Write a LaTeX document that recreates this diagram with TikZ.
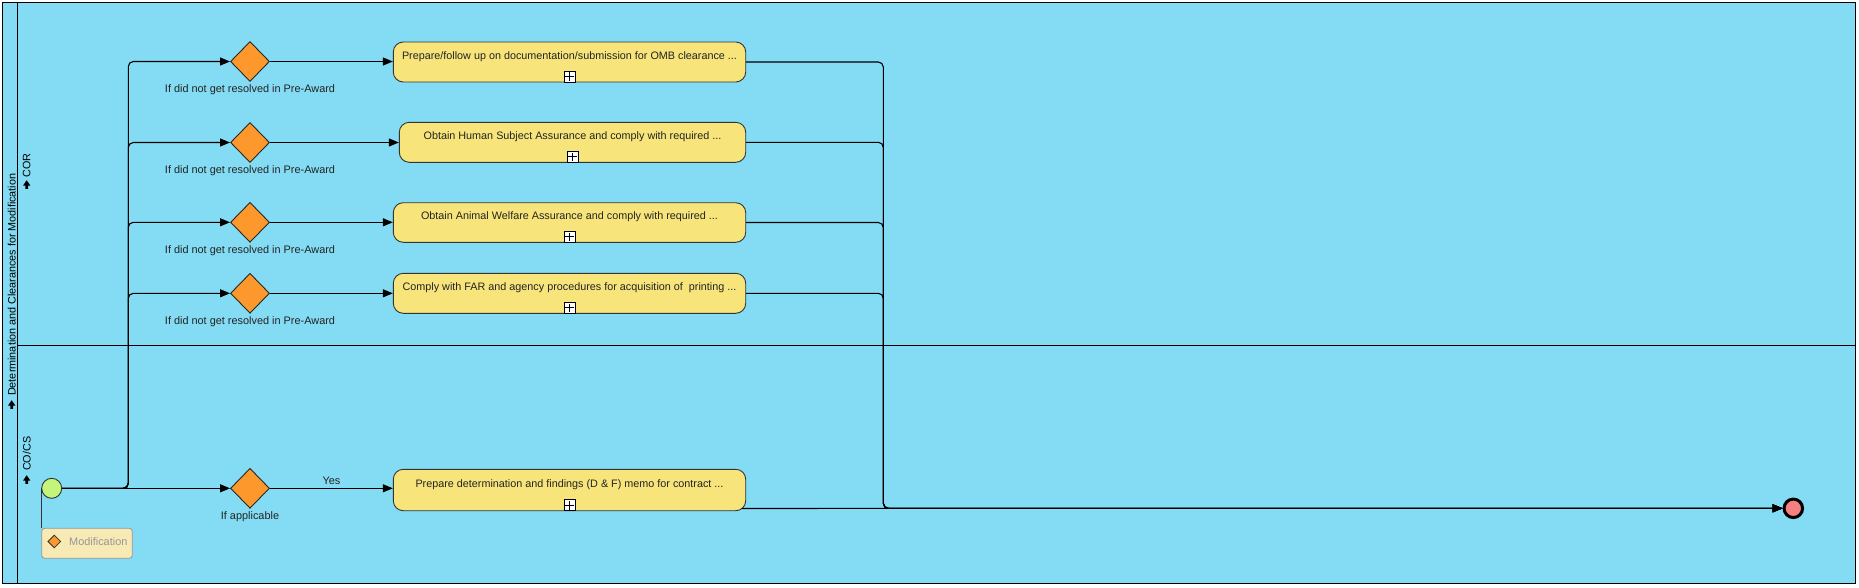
\documentclass[tikz,border=0pt]{standalone}
\usepackage{fontspec}
\setmainfont{Liberation Sans}
\usetikzlibrary{shapes.geometric,arrows.meta,calc}

\definecolor{laneblue}{RGB}{132,220,244}
\definecolor{taskyel}{RGB}{247,229,123}
\definecolor{gworange}{RGB}{252,152,44}
\definecolor{evgreen}{RGB}{196,244,122}
\definecolor{evred}{RGB}{245,128,128}
\definecolor{annfill}{RGB}{247,234,180}
\definecolor{anngray}{RGB}{150,150,150}
\definecolor{txt}{RGB}{35,35,35}

\begin{document}
\begin{tikzpicture}[x=1pt,y=-1pt,
  every node/.style={font=\fontsize{10.8}{12}\selectfont, text=txt},
  task/.style={draw=black!80, fill=taskyel, rounded corners=10pt, minimum height=40pt, inner sep=0pt, line width=0.9pt},
  gw/.style={diamond, draw=black!85, fill=gworange, minimum width=39pt, minimum height=40pt, inner sep=0pt, line width=0.9pt},
  plusbox/.style={draw=black, fill=white, minimum size=11pt, inner sep=0pt, line width=0.8pt, anchor=south,
    path picture={\draw[line width=0.8pt] ($(path picture bounding box.center)+(0,4.3)$) -- ($(path picture bounding box.center)+(0,-4.3)$)
      ($(path picture bounding box.center)+(4.3,0)$) -- ($(path picture bounding box.center)+(-4.3,0)$);}},
  flow/.style={draw=black, line width=1.1pt, rounded corners=5pt, -{Triangle[length=10pt,width=8pt]}},
  gwlabel/.style={font=\fontsize{10.9}{12}\selectfont},
  lanelabel/.style={rotate=90, text=black, anchor=west, inner sep=0pt},
  lanearrow/.pic={\fill[black] (-3.6,1) -- (0,-4.3) -- (3.6,1) -- (1.4,1) -- (1.4,4.3) -- (-1.4,4.3) -- (-1.4,1) -- cycle;},
]
\useasboundingbox (0,0) rectangle (1859,587);
\fill[white] (0,0) rectangle (1859,587);
\fill[laneblue] (2.3,2) rectangle (1855.7,583.3);
\draw[line width=1pt] (2.3,2) rectangle (1855.7,583.3);
\draw[line width=1pt] (17.3,2) -- (17.3,583.3);
\draw[line width=1pt] (17.3,345.3) -- (1855.7,345.3);

% pool and lane labels
\node[lanelabel] (pooltitle) at (11.7,396) {Determination and Clearances for Modification};
\node[lanelabel] (cor) at (26.7,177.5) {COR};
\node[lanelabel] (cocs) at (26.7,471) {CO/CS};
\pic at (11.7,404.5) {lanearrow};
\pic at (26.7,184.5) {lanearrow};
\pic at (26.7,479.5) {lanearrow};

% annotation
\node[draw=anngray, fill=annfill, rounded corners=3pt, minimum width=90.6pt, minimum height=30pt, inner sep=0pt, line width=0.8pt] (mod) at (87,543.3) {};
\node[diamond, draw=black!80, fill=gworange, minimum width=13pt, minimum height=13pt, inner sep=0pt, line width=0.8pt] (modicon) at (54.3,541.5) {};
\node[text=anngray, font=\fontsize{10.9}{12}\selectfont] (modtxt) at (98.3,541.5) {Modification};

% events
\node[circle, draw=black!80, fill=evgreen, minimum size=20pt, inner sep=0pt, line width=0.9pt] (start) at (51.7,488.3) {};
\node[circle, draw=black, fill=evred, minimum size=18.5pt, inner sep=0pt, line width=3pt] (end) at (1793.3,508.3) {};
\draw[line width=0.9pt, black!80] (start.west) -- (start.west |- mod.north);

% gateways
\node[gw] (d1) at (250,61.5) {};
\node[gw] (d2) at (250,142.5) {};
\node[gw] (d3) at (250,222.3) {};
\node[gw] (d4) at (250,293.3) {};
\node[gw] (d5) at (250,488.3) {};
\node[gwlabel] (l1) at (250,89.8) {If did not get resolved in Pre-Award};
\node[gwlabel] (l2) at (250,170.8) {If did not get resolved in Pre-Award};
\node[gwlabel] (l3) at (250,250.6) {If did not get resolved in Pre-Award};
\node[gwlabel] (l4) at (250,321.6) {If did not get resolved in Pre-Award};
\node[gwlabel] (l5) at (250,516.5) {If applicable};

% tasks
\node[task, minimum width=352.4pt] (t1) at (569.5,62) {};
\node[task, minimum width=346.4pt] (t2) at (572.5,142.3) {};
\node[task, minimum width=352.4pt, minimum height=39.6pt] (t3) at (569.5,222.5) {};
\node[task, minimum width=352.4pt] (t4) at (569.5,293.3) {};
\node[task, minimum width=352.4pt, minimum height=41.4pt] (t5) at (569.5,490) {};
\node (t1txt) at ($(t1.center)+(0,-5.3)$) {Prepare/follow up on documentation/submission for OMB clearance ...};
\node (t2txt) at ($(t2.center)+(0,-5.3)$) {Obtain Human Subject Assurance and comply with required ...};
\node (t3txt) at ($(t3.center)+(0,-5.3)$) {Obtain Animal Welfare Assurance and comply with required ...};
\node (t4txt) at ($(t4.center)+(0,-5.3)$) {Comply with FAR and agency procedures for acquisition of \ printing ...};
\node (t5txt) at ($(t5.center)+(0,-5.3)$) {Prepare determination and findings (D \& F) memo for contract ...};
\node[plusbox] (t1p) at (t1.south) {};
\node[plusbox] (t2p) at (t2.south) {};
\node[plusbox] (t3p) at (t3.south) {};
\node[plusbox] (t4p) at (t4.south) {};
\node[plusbox] (t5p) at (t5.south) {};

% coordinates for fork and join
\coordinate (fx) at (128.3,488.3);
\coordinate (jx) at (883.3,508.3);

% fork flows
\draw[flow] (start.east) -- (fx) -- (fx |- d1) -- (d1.west);
\draw[flow] (start.east) -- (fx) -- (fx |- d2) -- (d2.west);
\draw[flow] (start.east) -- (fx) -- (fx |- d3) -- (d3.west);
\draw[flow] (start.east) -- (fx) -- (fx |- d4) -- (d4.west);
\draw[flow] (start.east) -- (d5.west);

% gateway to task flows
\draw[flow] (d1.east) -- (d1.east -| t1.west);
\draw[flow] (d2.east) -- (d2.east -| t2.west);
\draw[flow] (d3.east) -- (d3.east -| t3.west);
\draw[flow] (d4.east) -- (d4.east -| t4.west);
\draw[flow] (d5.east) -- (d5.east -| t5.west) node[pos=0.5, yshift=8pt, font=\fontsize{10.9}{12}\selectfont] (yes) {Yes};

% join flows
\draw[flow] (t1.east) -- (t1.east -| jx) -- (jx) -- (end.west);
\draw[flow] (t2.east) -- (t2.east -| jx) -- (jx) -- (end.west);
\draw[flow] (t3.east) -- (t3.east -| jx) -- (jx) -- (end.west);
\draw[flow] (t4.east) -- (t4.east -| jx) -- (jx) -- (end.west);
\draw[flow] ([xshift=-4pt,yshift=2.7pt]t5.south east) -- (end.west);
\end{tikzpicture}
\end{document}
